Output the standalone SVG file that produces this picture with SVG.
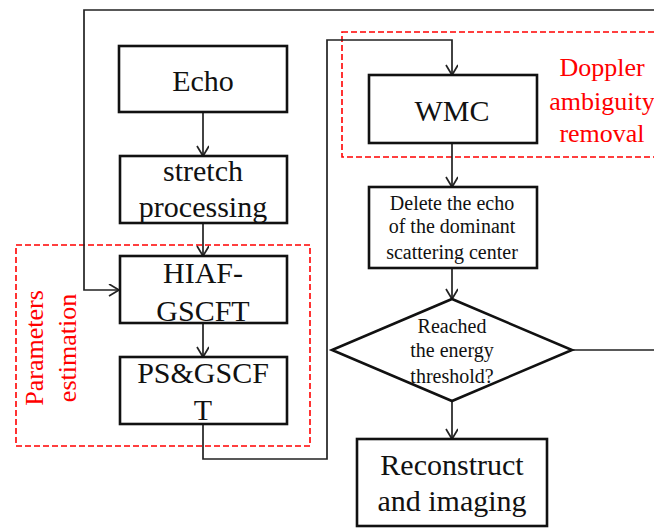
<svg xmlns="http://www.w3.org/2000/svg" width="654" height="528" viewBox="0 0 654 528">
  <style>
    .box { fill: #fff; stroke: #111; stroke-width: 2.6; }
    .wire { fill: none; stroke: #222; stroke-width: 1.7; }
    .zone { fill: none; stroke: #ff0000; stroke-width: 1.6; stroke-dasharray: 6 3; }
    .t30 { font-family: "Liberation Serif", "Times New Roman", serif; font-size: 30px; fill: #111; text-anchor: middle; }
    .t20 { font-family: "Liberation Serif", "Times New Roman", serif; font-size: 20px; fill: #111; text-anchor: middle; }
    .red { font-family: "Liberation Serif", "Times New Roman", serif; font-size: 26px; fill: #ff0000; text-anchor: middle; }
  </style>
  <defs>
    <marker id="arrow" markerUnits="userSpaceOnUse" markerWidth="14" markerHeight="14" refX="11" refY="6" orient="auto">
      <path d="M1,0 L11,6 L1,12" fill="none" stroke="#222" stroke-width="1.7"/>
    </marker>
  </defs>
  <rect width="654" height="528" fill="#fff"/>

  <!-- dashed grouping regions -->
  <g id="zone-parameters">
    <rect class="zone" x="16" y="245" width="294" height="201"/>
    <text class="red" transform="translate(43,348) rotate(-90)">Parameters</text>
    <text class="red" transform="translate(76,348) rotate(-90)">estimation</text>
  </g>
  <g id="zone-doppler">
    <rect class="zone" x="342" y="32" width="330" height="125"/>
    <text class="red" x="602" y="76">Doppler</text>
    <text class="red" x="602" y="110">ambiguity</text>
    <text class="red" x="602" y="142">removal</text>
  </g>

  <!-- connectors -->
  <g id="connectors">
    <line class="wire" x1="203" y1="112" x2="203" y2="156" marker-end="url(#arrow)"/>
    <line class="wire" x1="203" y1="223" x2="203" y2="256" marker-end="url(#arrow)"/>
    <line class="wire" x1="203" y1="323" x2="203" y2="357" marker-end="url(#arrow)"/>
    <polyline class="wire" points="654,10 84,10 84,290 119,290" marker-end="url(#arrow)"/>
    <polyline class="wire" points="203,424 203,459 327,459 327,40 452,40 452,75" marker-end="url(#arrow)"/>
    <line class="wire" x1="452" y1="143" x2="452" y2="187" marker-end="url(#arrow)"/>
    <line class="wire" x1="452" y1="268" x2="452" y2="299" marker-end="url(#arrow)"/>
    <line class="wire" x1="452" y1="401" x2="452" y2="439" marker-end="url(#arrow)"/>
    <line class="wire" x1="572" y1="350" x2="654" y2="350"/>
  </g>

  <!-- processing nodes -->
  <g id="node-echo">
    <rect class="box" x="119" y="46" width="168" height="66"/>
    <text class="t30" x="203" y="91">Echo</text>
  </g>
  <g id="node-stretch">
    <rect class="box" x="120" y="156" width="167" height="67"/>
    <text class="t30" x="203" y="181">stretch</text>
    <text class="t30" x="203" y="217">processing</text>
  </g>
  <g id="node-hiaf">
    <rect class="box" x="120" y="256" width="167" height="67"/>
    <text class="t30" x="203" y="283">HIAF-</text>
    <text class="t30" x="203" y="321">GSCFT</text>
  </g>
  <g id="node-ps">
    <rect class="box" x="120" y="357" width="167" height="67"/>
    <text class="t30" x="203" y="383">PS&amp;GSCF</text>
    <text class="t30" x="203" y="420">T</text>
  </g>
  <g id="node-wmc">
    <rect class="box" x="369" y="75" width="168" height="68"/>
    <text class="t30" x="452" y="121">WMC</text>
  </g>
  <g id="node-delete">
    <rect class="box" x="369" y="187" width="168" height="81"/>
    <text class="t20" x="452" y="210">Delete the echo</text>
    <text class="t20" x="452" y="233">of the dominant</text>
    <text class="t20" x="452" y="259">scattering center</text>
  </g>
  <g id="node-threshold">
    <polygon class="box" points="452,299 572,350 452,401 332,350"/>
    <text class="t20" x="452" y="333">Reached</text>
    <text class="t20" x="452" y="357">the energy</text>
    <text class="t20" x="452" y="383">threshold?</text>
  </g>
  <g id="node-reconstruct">
    <rect class="box" x="357" y="439" width="190" height="87"/>
    <text class="t30" x="452" y="475">Reconstruct</text>
    <text class="t30" x="452" y="511">and imaging</text>
  </g>
</svg>
